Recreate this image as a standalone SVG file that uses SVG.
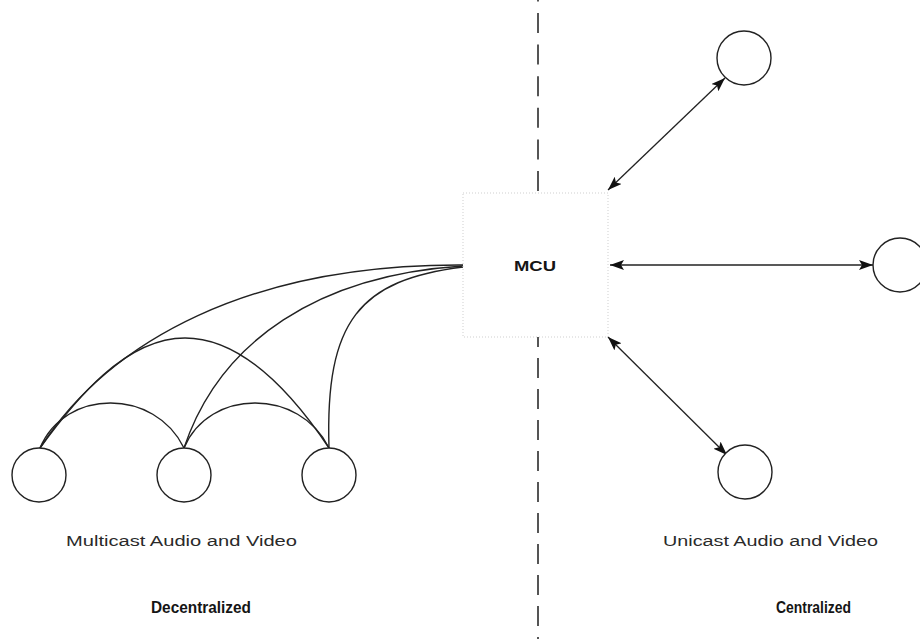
<svg xmlns="http://www.w3.org/2000/svg" width="920" height="639" viewBox="0 0 920 639">
  <style>
    .divider { stroke: #1e1e1e; stroke-width: 1.5; fill: none; }
    .node { fill: #fff; stroke: #222; stroke-width: 1.4; }
    .link { fill: none; stroke: #222; stroke-width: 1.4; }
    .arrow { fill: none; stroke: #222; stroke-width: 1.3; marker-start: url(#head); marker-end: url(#head); }
    .mcu-box { fill: #fff; stroke: #cfcfcf; stroke-width: 1; stroke-dasharray: 1 2; }
    .label { font-family: "Liberation Sans", Arial, sans-serif; fill: #2a2a2a; }
    .title { font-family: "Liberation Sans", Arial, sans-serif; font-weight: bold; fill: #151515; }
  </style>
  <defs>
    <marker id="head" viewBox="0 0 14 10" refX="14" refY="5" markerWidth="14" markerHeight="10" markerUnits="userSpaceOnUse" orient="auto-start-reverse">
      <path d="M0,0 L14,5 L0,10 L3,5 Z" fill="#111"/>
    </marker>
  </defs>

  <rect width="920" height="639" fill="#fff"/>

  <!-- dividing line between the two models -->
  <g id="divider">
    <line class="divider" x1="538" y1="0" x2="538" y2="193" stroke-dasharray="20 11.6" stroke-dashoffset="18.6"/>
    <line class="divider" x1="538" y1="337" x2="538" y2="639" stroke-dasharray="20 11" stroke-dashoffset="10"/>
  </g>

  <!-- connectors -->
  <g id="connectors">
    <!-- decentralized mesh -->
    <path class="link" d="M40,448 C65,388 155,388 184,448"/>
    <path class="link" d="M184,448 C209,388 300,388 329,448"/>
    <path class="link" d="M40,448 C75,400 125,338 185,338 C240,338 290,390 329,448"/>
    <path class="link" d="M40,448 C110,340 250,264 463,265"/>
    <path class="link" d="M184,448 C220,340 320,275 463,266"/>
    <path class="link" d="M329,448 C325,320 360,280 463,267"/>
    <!-- centralized unicast -->
    <line class="arrow" x1="608" y1="190" x2="725" y2="78"/>
    <line class="arrow" x1="610" y1="265" x2="873" y2="265"/>
    <line class="arrow" x1="608" y1="337" x2="727" y2="455"/>
  </g>

  <g id="mcu">
    <rect class="mcu-box" x="463" y="193" width="145" height="144"/>
    <text class="title" x="535" y="271" font-size="15" text-anchor="middle" textLength="42" lengthAdjust="spacingAndGlyphs">MCU</text>
  </g>

  <g id="peer-1"><circle class="node" cx="39" cy="475" r="27"/></g>
  <g id="peer-2"><circle class="node" cx="184" cy="475" r="27"/></g>
  <g id="peer-3"><circle class="node" cx="329" cy="475" r="27"/></g>

  <g id="client-top"><circle class="node" cx="744" cy="58" r="27"/></g>
  <g id="client-right"><circle class="node" cx="900" cy="265" r="27"/></g>
  <g id="client-bottom"><circle class="node" cx="745" cy="472" r="27"/></g>

  <g id="labels">
    <text class="label" x="66" y="546" font-size="14" textLength="231" lengthAdjust="spacingAndGlyphs">Multicast Audio and Video</text>
    <text class="label" x="663" y="546" font-size="14" textLength="215" lengthAdjust="spacingAndGlyphs">Unicast Audio and Video</text>
    <text class="title" x="151" y="613" font-size="16" textLength="100" lengthAdjust="spacingAndGlyphs">Decentralized</text>
    <text class="title" x="776" y="613" font-size="16" textLength="75" lengthAdjust="spacingAndGlyphs">Centralized</text>
  </g>
</svg>
